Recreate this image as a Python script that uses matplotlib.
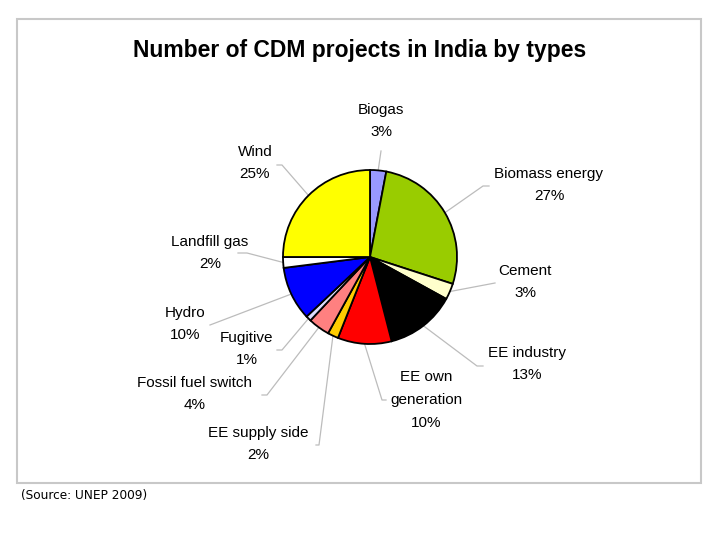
import matplotlib
matplotlib.use("Agg")
import matplotlib.pyplot as plt
from matplotlib.patches import Rectangle
import numpy as np

# data: share of CDM projects in India by type (%)
types = ["Biogas", "Biomass energy", "Cement", "EE industry", "EE own\ngeneration",
         "EE supply side", "Fossil fuel switch", "Fugitive", "Hydro", "Landfill gas", "Wind"]
shares = [3, 27, 3, 13, 10, 2, 4, 1, 10, 2, 25]
colors = ["#9999FF", "#99CC00", "#FFFFCC", "#000000", "#FF0000", "#FFCC00",
          "#FF8080", "#DDDDFF", "#0000FF", "#FFFFFF", "#FFFF00"]

# layout in pixels (720x540 canvas): pie centre / radius, label centres, leader elbows
CX, CY, R = 370, 257, 87
label_pos = [(381, 121), (549, 185), (525, 282), (527, 364), (426, 400), (258, 444),
             (195, 394), (247, 349), (185, 324), (210, 253), (255, 163)]
leader_pts = [[(381, 151)],
              [(483, 186), (489, 186)],
              [(495, 283)],
              [(477, 366), (483, 366)],
              [(382, 400), (386, 400)],
              [(319, 445), (316, 445)],
              [(267, 395), (262, 395)],
              [(282, 350), (277, 350)],
              [(210, 325)],
              [(247, 253), (238, 253)],
              [(282, 165), (277, 165)]]


def px(x, y):
    return (x - CX) / R, (CY - y) / R


fig = plt.figure(figsize=(7.2, 5.4), dpi=100)
ax = fig.add_axes([0, 0, 1, 1])
wedges, _ = ax.pie(shares, colors=colors, startangle=90, counterclock=False, radius=1,
                   wedgeprops=dict(edgecolor="black", linewidth=1.3))

total = sum(shares)
cum = 0
for name, val, lp, pts in zip(types, shares, label_pos, leader_pts):
    mid = 90 - (cum + val / 2) / total * 360
    cum += val
    xs = [np.cos(np.radians(mid))]
    ys = [np.sin(np.radians(mid))]
    for p in pts:
        x, y = px(*p)
        xs.append(x)
        ys.append(y)
    ax.plot(xs, ys, color="#bcbcbc", lw=0.9, zorder=0)
    tx, ty = px(*lp)
    ax.text(tx, ty, f"{name}\n{val}%", ha="center", va="center", fontsize=11,
            family="Liberation Sans", linespacing=1.8)

ax.set_xlim(px(0, 0)[0], px(720, 0)[0])
ax.set_ylim(px(0, 540)[1], px(0, 0)[1])
ax.set_aspect("equal")
ax.axis("off")

fig.patches.append(Rectangle((17 / 720, 1 - 483 / 540), 684 / 720, 464 / 540,
                             transform=fig.transFigure, fill=False,
                             edgecolor="#c8c8c8", linewidth=1.5))
fig.text(360 / 720, 1 - 50 / 540, "Number of CDM projects in India by types",
         ha="center", va="center", fontsize=16.5, fontweight="bold", family="Liberation Sans")
fig.text(21 / 720, 1 - 495 / 540, "(Source: UNEP 2009)", ha="left", va="center",
         fontsize=8.7, family="DejaVu Sans")

fig.savefig("out.png", dpi=100)
